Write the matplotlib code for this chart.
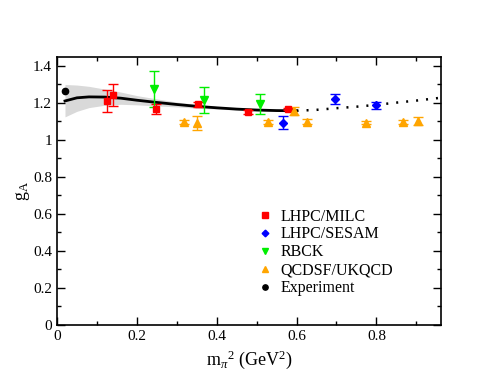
import matplotlib
matplotlib.use("Agg")
import matplotlib.pyplot as plt
from matplotlib.lines import Line2D
from matplotlib.ticker import MultipleLocator, FuncFormatter

plt.rcParams['font.family'] = ['Liberation Serif', 'DejaVu Serif']
plt.rcParams['mathtext.fontset'] = 'custom'
plt.rcParams['mathtext.rm'] = 'Liberation Serif'
plt.rcParams['mathtext.it'] = 'Liberation Serif:italic'

# ---- data ----
milc_x = [0.126, 0.141, 0.2475, 0.3525, 0.479, 0.5775]
milc_y = [1.211, 1.243, 1.168, 1.193, 1.150, 1.166]
milc_e = [0.058, 0.058, 0.029, 0.015, 0.010, 0.006]

sesam_x = [0.567, 0.697, 0.800]
sesam_y = [1.094, 1.222, 1.188]
sesam_e = [0.034, 0.029, 0.020]

rbck_x = [0.244, 0.369, 0.5075]
rbck_y = [1.274, 1.216, 1.195]
rbck_e = [0.098, 0.072, 0.053]

qcd_x = [0.319, 0.350, 0.528, 0.593, 0.625, 0.773, 0.8675, 0.905]
qcd_y = [1.099, 1.094, 1.099, 1.157, 1.099, 1.094, 1.099, 1.104]
qcd_e = [0.010, 0.038, 0.010, 0.022, 0.012, 0.010, 0.010, 0.021]

exp_x = [0.0195]
exp_y = [1.267]

fit_x = [0.02, 0.05, 0.08, 0.12, 0.16, 0.2, 0.25, 0.3, 0.35, 0.4, 0.45, 0.5, 0.55, 0.6]
fit_y = [1.211, 1.228, 1.233, 1.232, 1.226, 1.215, 1.203, 1.192, 1.182, 1.174, 1.167, 1.162, 1.159, 1.158]
band_hi = [1.300, 1.297, 1.290, 1.275, 1.259, 1.240, 1.222, 1.205, 1.192, 1.181, 1.172, 1.166, 1.162, 1.160]
band_lo = [1.125, 1.155, 1.175, 1.188, 1.193, 1.190, 1.184, 1.179, 1.172, 1.167, 1.162, 1.158, 1.156, 1.156]

ext_x = [0.6, 0.65, 0.7, 0.75, 0.8, 0.85, 0.9, 0.96]
ext_y = [1.158, 1.163, 1.172, 1.180, 1.190, 1.202, 1.213, 1.228]

labels = ['LHPC/MILC', 'LHPC/SESAM', 'RBCK', 'QCDSF/UKQCD', 'Experiment']
colors = ['red', 'blue', '#00ee00', 'orange', 'black']
markers = ['s', 'D', 'v', '^', 'o']
sizes = [4.5, 4, 5.5, 5.5, 4.5]

# ---- plot ----
fig = plt.figure(figsize=(4.96, 3.83), dpi=100)
ax = fig.add_axes([57/496, 1-325/383, (440.7-57)/496, (325-57.3)/383])

ax.fill_between(fit_x, band_lo, band_hi, color='#d9d9d9', lw=0, zorder=1)
ax.plot(fit_x, fit_y, color='black', lw=2, zorder=2)
ax.plot(ext_x, ext_y, color='black', lw=1.8, linestyle=(0, (0.8, 3.2)), zorder=2)

series = [(milc_x, milc_y, milc_e), (sesam_x, sesam_y, sesam_e),
          (rbck_x, rbck_y, rbck_e), (qcd_x, qcd_y, qcd_e)]
for (xs, ys, es), c, m, s in zip(series, colors, markers, sizes):
    ax.errorbar(xs, ys, yerr=es, fmt=m, color=c, ms=s, linestyle='none',
                capsize=3.5, elinewidth=1, capthick=1, zorder=3)
ax.plot(exp_x, exp_y, 'o', color='black', ms=4.5, zorder=3)

ax.set_xlim(0, 0.961)
ax.set_ylim(0, 1.447)
ax.xaxis.set_major_locator(MultipleLocator(0.2))
ax.xaxis.set_minor_locator(MultipleLocator(0.1))
ax.yaxis.set_major_locator(MultipleLocator(0.2))
ax.yaxis.set_minor_locator(MultipleLocator(0.1))
fmt = FuncFormatter(lambda v, p: ('%g' % round(v, 3)))
ax.xaxis.set_major_formatter(fmt)
ax.yaxis.set_major_formatter(fmt)
ax.tick_params(which='both', direction='in', top=True, right=True, labelsize=11, width=1)
ax.tick_params(which='major', length=6)
ax.tick_params(which='minor', length=3)
for s in ax.spines.values():
    s.set_linewidth(1.2)

ax.set_xlabel(r'm$_\pi$$^2$ (GeV$^2$)', fontsize=13, labelpad=4)
ax.set_ylabel(r'g$_\mathrm{A}$', fontsize=13, labelpad=1)

handles = [Line2D([], [], linestyle='none', marker=m, color=c, ms=s * 0.85)
           for m, c, s in zip(markers, colors, sizes)]
ax.legend(handles, labels, loc='upper left', bbox_to_anchor=(0.5, 0.465),
          frameon=False, fontsize=11.5, handlelength=1.0, handletextpad=0.5,
          labelspacing=0.12, borderpad=0)

fig.savefig('out.png', dpi=100)
